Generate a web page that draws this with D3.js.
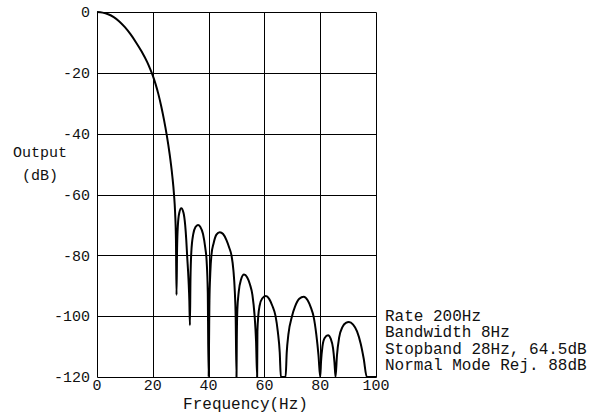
<!DOCTYPE html>
<html>
<head>
<meta charset="utf-8">
<script src="https://cdn.jsdelivr.net/npm/d3@7"></script>
<style>
  body { margin: 0; background: #fff; }
  svg { display: block; }
  text { font-family: "Liberation Mono", "Courier New", monospace; font-size: 15px; fill: #111; }
  .big { font-size: 16px; }
</style>
</head>
<body>
<script>
// response curve, [Hz, dB]
var mainLobe = [[0,0],[2,-0.2],[4,-0.75],[6,-1.7],[8,-3.1],[10,-5],[12,-7.3],[14,-10],[16,-13],[18,-16.5],[19,-18.6],
	[20,-20.9],[21,-23.7],[22,-27],[23,-30.9],[24,-35.4],[25,-40.5],[26,-46.5],[27,-54],[27.6,-60],[28,-66],[28.3,-75],[28.5,-93]];
var sideLobes = [
	[[28.7,-78],[29,-70],[29.5,-66],[30.2,-64.5],[31,-66],[31.6,-70],[32,-75],[32.3,-80],[32.8,-88],[33.1,-95],[33.3,-103]],
	[[33.5,-88],[33.8,-79],[34.5,-73],[35.3,-70.7],[36.2,-70],[37,-70.6],[38,-73],[38.8,-77.5],[39.3,-82],[39.7,-92],[40,-120]],
	[[40.3,-95],[40.6,-86],[41,-80],[41.8,-76],[42.8,-73.2],[44,-72.4],[45.2,-73],[46.4,-75],[47.4,-77.5],[48.2,-80],[48.9,-85],[49.4,-92],[49.7,-100],[50,-120]],
	[[50.1,-108],[50.3,-98],[50.8,-92],[51.6,-88],[52.7,-86.3],[53.8,-87.2],[54.8,-89.5],[55.7,-93],[56.5,-100],[57,-108],[57.4,-120]],
	[[57.5,-105],[57.8,-100],[58.3,-96.5],[59.2,-94.2],[60.5,-93.4],[61.7,-94.3],[62.8,-96.5],[64,-100],[64.8,-105],[65.5,-112],[65.9,-120],[67.6,-120]],
	[[68,-112],[68.6,-106],[69.9,-100],[71,-96.8],[72.5,-94.3],[74.1,-93.6],[75.5,-94.8],[76.7,-97.3],[77.6,-100],[78.6,-106],[79.4,-113],[80,-120]],
	[[80.3,-115],[80.8,-110],[81.6,-107.2],[82.8,-106.3],[83.8,-107.5],[84.6,-110.5],[85.1,-115],[85.5,-120]],
	[[86,-113],[86.8,-107],[88,-103.5],[89.2,-102.2],[90.3,-101.9],[91.8,-102.8],[93.2,-105],[94.5,-109],[95.6,-114],[96.7,-120],[100,-120]]
];
var xTicks = [0, 20, 40, 60, 80, 100];
var yTicks = [0, -20, -40, -60, -80, -100, -120];
var notes = ["Rate 200Hz", "Bandwidth 8Hz", "Stopband 28Hz, 64.5dB", "Normal Mode Rej. 88dB"];

var margin = { top: 12, left: 97 },
	width = 279,
	height = 365;

var svg = d3.select("body").append("svg")
	.attr("width", 596)
	.attr("height", 415);

var g = svg.append("g")
	.attr("transform", "translate(" + margin.left + "," + margin.top + ")");

var x = d3.scaleLinear().domain([0, 100]).range([0, width]);
var y = d3.scaleLinear().domain([-120, 0]).range([height, 0]);

// grid
g.selectAll(".vgrid")
	.data(xTicks)
	.enter().append("line")
	.attr("x1", d => Math.round(x(d)) + 0.5)
	.attr("x2", d => Math.round(x(d)) + 0.5)
	.attr("y1", 0.5)
	.attr("y2", height + 0.5)
	.attr("stroke", "#000")
	.attr("stroke-width", 1);

g.selectAll(".hgrid")
	.data(yTicks)
	.enter().append("line")
	.attr("x1", 0.5)
	.attr("x2", width + 0.5)
	.attr("y1", d => Math.round(y(d)) + 0.5)
	.attr("y2", d => Math.round(y(d)) + 0.5)
	.attr("stroke", "#000")
	.attr("stroke-width", 1);

// tick labels
g.selectAll(".ylab")
	.data(yTicks)
	.enter().append("text")
	.attr("x", -7)
	.attr("y", d => y(d))
	.attr("dy", "0.35em")
	.style("text-anchor", "end")
	.text(d => d === 0 ? "0" : "-" + Math.abs(d));

g.selectAll(".xlab")
	.data(xTicks)
	.enter().append("text")
	.attr("x", d => x(d))
	.attr("y", height + 13)
	.style("text-anchor", "middle")
	.text(d => d);

// curve
var line = d3.line()
	.x(d => x(d[0]))
	.y(d => y(d[1]))
	.curve(d3.curveMonotoneX);

var curve = mainLobe.concat.apply(mainLobe, sideLobes);

g.append("path")
	.datum(curve)
	.attr("d", line)
	.attr("fill", "none")
	.attr("stroke", "#000")
	.attr("stroke-width", 2)
	.attr("stroke-linejoin", "round");

// titles
svg.append("text")
	.attr("x", 40).attr("y", 157)
	.style("text-anchor", "middle")
	.text("Output");
svg.append("text")
	.attr("x", 40).attr("y", 180)
	.style("text-anchor", "middle")
	.text("(dB)");
svg.append("text")
	.attr("class", "big")
	.attr("x", margin.left + width / 2 + 9).attr("y", 409)
	.style("text-anchor", "middle")
	.text("Frequency(Hz)");

svg.selectAll(".note")
	.data(notes)
	.enter().append("text")
	.attr("class", "big")
	.attr("x", 385)
	.attr("y", (d, i) => 321 + i * 16.3)
	.text(d => d);
</script>
</body>
</html>
